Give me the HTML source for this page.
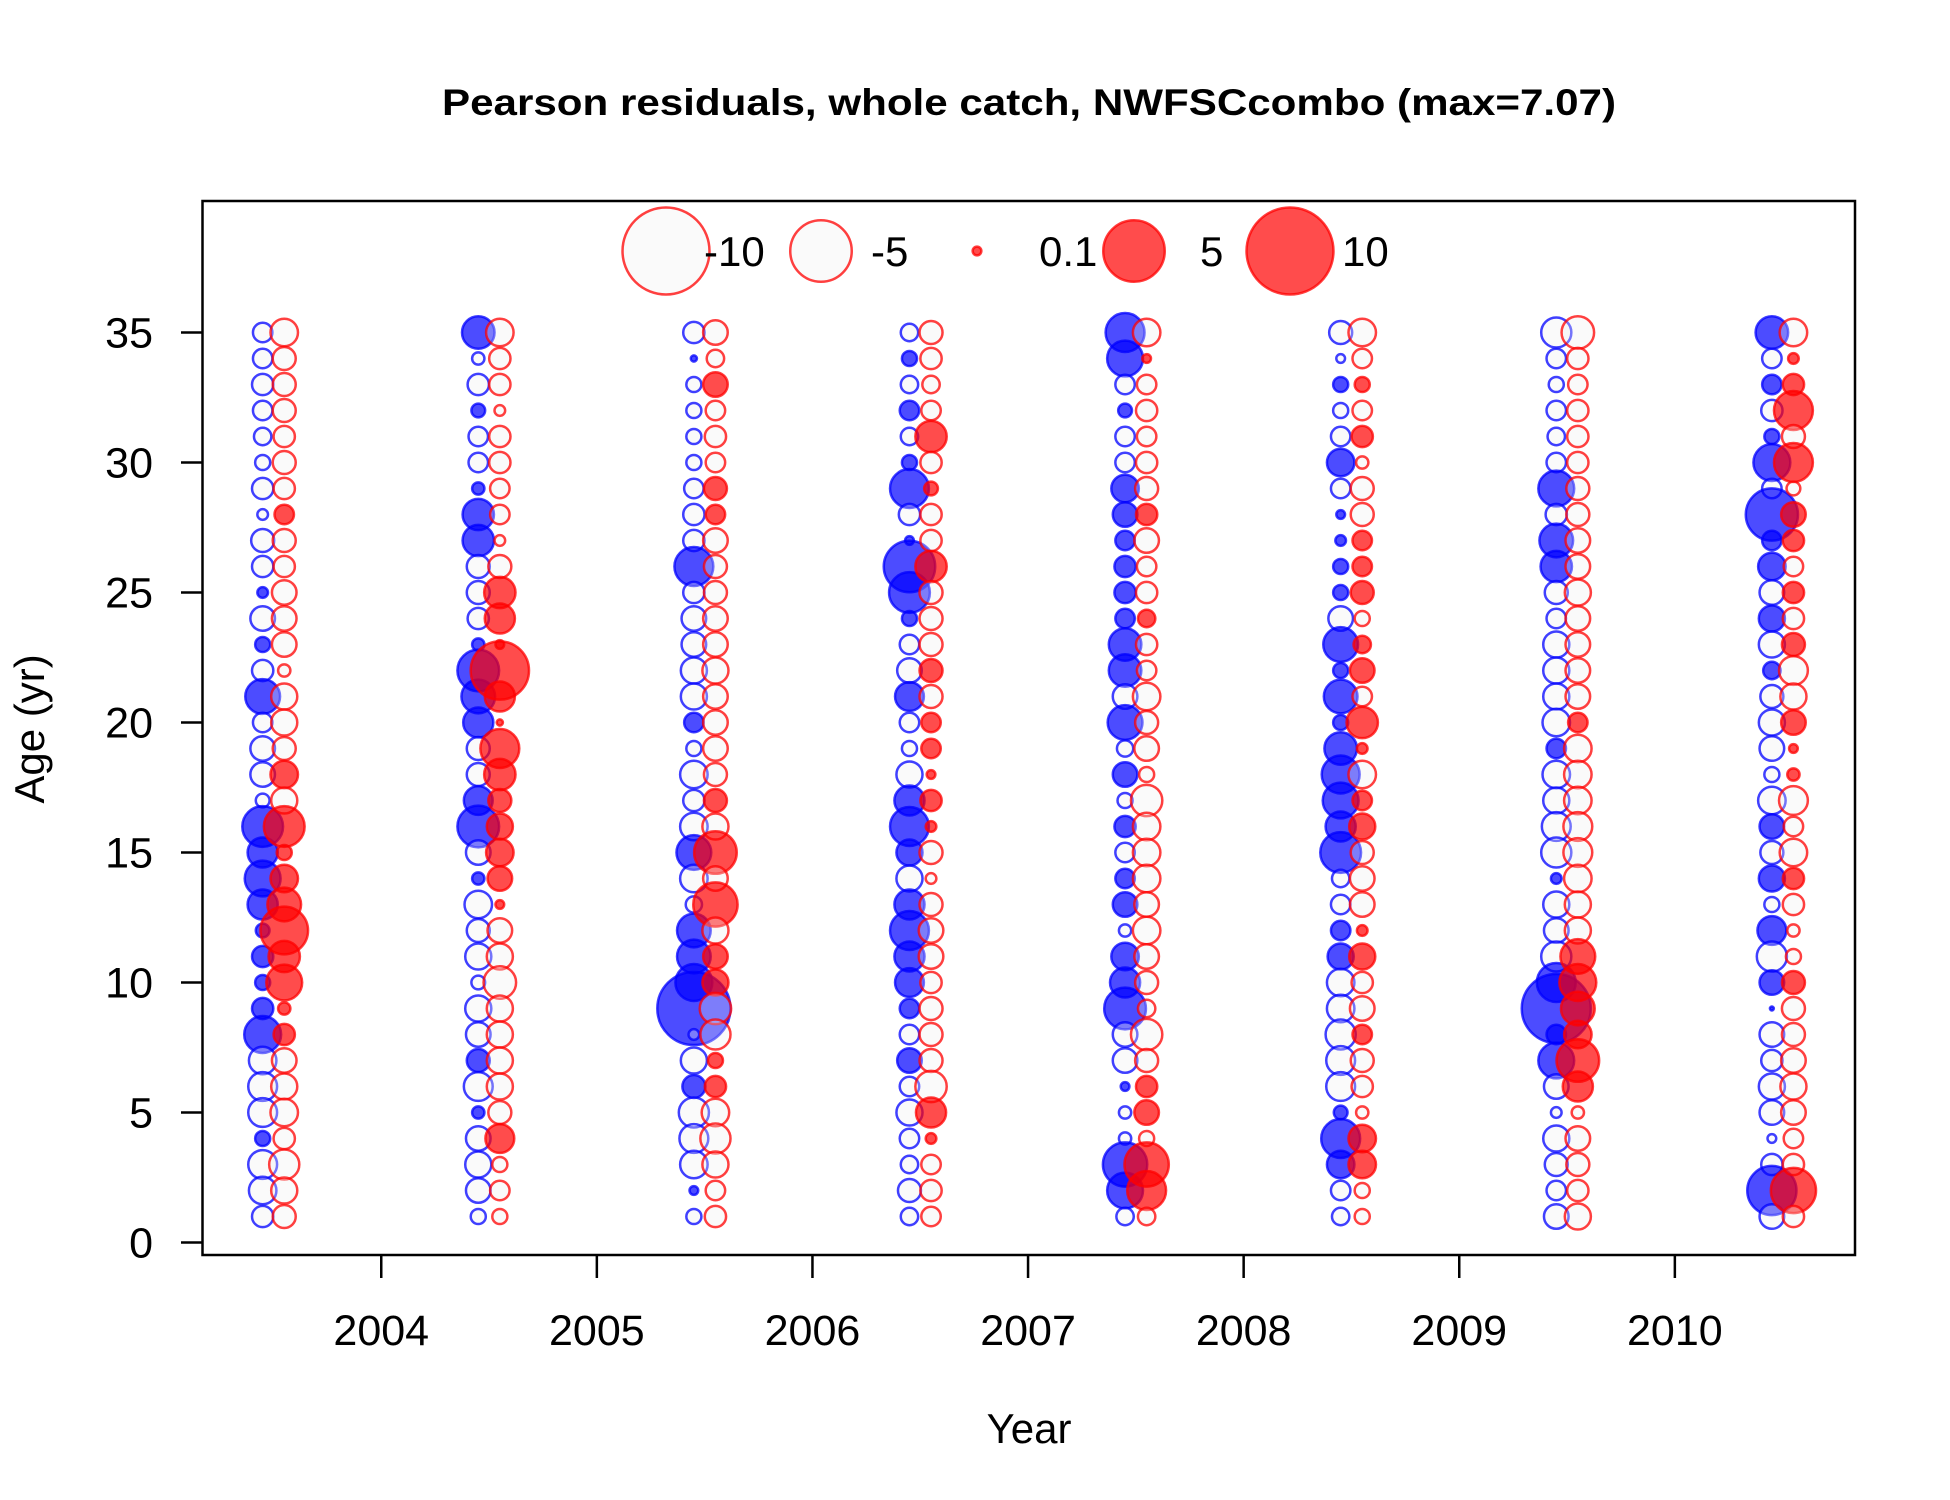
<!DOCTYPE html>
<html><head><meta charset="utf-8"><style>
html,body{margin:0;padding:0;background:#fff;}
svg{display:block;font-family:"Liberation Sans",Arial,sans-serif;}
</style></head><body>
<svg id="chart" width="1950" height="1500" viewBox="0 0 1950 1500">
<rect x="0" y="0" width="1950" height="1500" fill="#fff"/>
<text x="1029" y="115" text-anchor="middle" font-size="37" font-weight="bold" textLength="1174" lengthAdjust="spacingAndGlyphs">Pearson residuals, whole catch, NWFSCcombo (max=7.07)</text>
<g id="marks"></g>
<rect x="202.5" y="201" width="1652.5" height="1054" fill="none" stroke="#000" stroke-width="2.5"/>
<g id="xaxis"></g>
<g id="yaxis"></g>
<text x="1029" y="1443" text-anchor="middle" font-size="42">Year</text>
<text transform="translate(44,729) rotate(-90)" text-anchor="middle" font-size="42">Age (yr)</text>
<g id="legend"></g>
</svg>
<script>
const years = [2003,2004,2005,2006,2007,2008,2009,2010];
const ages = Array.from({length:35},(_,i)=>i+1);
const xTicks = [2004,2005,2006,2007,2008,2009,2010];
const yTicks = [0,5,10,15,20,25,30,35];
const legendValues = [-10,-5,0.1,5,10];
const legendLabels = ["-10","-5","0.1","5","10"];
// values listed age 35 down to age 1
const female = {
2003:[-0.5,-0.5,-0.6,-0.5,-0.4,-0.3,-0.6,-0.15,-0.7,-0.6,0.15,-0.8,0.3,-0.6,1.6,-0.5,-0.8,-0.8,-0.25,2.2,1.2,1.7,1.2,0.25,0.6,0.3,0.6,1.8,-1.0,-1.1,-1.1,0.3,-1.1,-1.0,-0.6],
2004:[1.4,-0.2,-0.6,0.25,-0.5,-0.5,0.2,1.3,1.3,-0.7,-0.7,-0.6,0.2,2.3,1.5,1.2,-0.7,-0.7,1.1,2.3,-0.8,0.2,-1.0,-0.7,-0.9,-0.25,-0.9,-0.8,0.7,-1.1,0.2,-0.8,-0.9,-0.8,-0.3],
2005:[-0.6,0.05,-0.3,-0.3,-0.3,-0.3,-0.5,-0.6,-0.6,2.0,-0.6,-0.8,-0.8,-0.9,-0.9,0.5,-0.3,-1.0,-0.6,-1.0,1.6,-1.0,-0.35,1.5,1.5,1.8,7.07,-0.15,-0.9,0.7,-1.2,-1.1,-1.0,0.1,-0.3],
2006:[-0.4,0.3,-0.4,0.5,-0.4,0.3,2.0,-0.6,0.1,3.5,2.2,0.3,-0.5,-0.8,1.1,-0.5,-0.3,-0.9,1.2,2.0,0.9,-0.9,1.2,2.0,1.2,1.1,0.5,-0.5,0.8,-0.5,-0.9,-0.5,-0.4,-0.7,-0.4],
2007:[2.0,1.7,-0.5,0.25,-0.5,-0.5,1.0,0.8,0.5,0.6,0.6,0.5,1.4,1.4,-0.8,1.6,-0.35,0.8,-0.3,0.6,-0.5,0.5,0.8,-0.2,1.0,1.2,2.3,-0.8,-0.8,0.1,-0.2,-0.2,2.6,1.7,-0.4],
2008:[-0.7,-0.1,0.3,-0.3,-0.5,1.0,-0.5,0.1,0.15,0.3,0.3,-0.8,1.6,0.3,1.5,0.3,1.4,1.9,1.7,1.2,2.2,-0.4,-0.5,0.5,0.9,-1.0,-1.0,-1.2,-1.1,-1.1,0.25,2.0,1.0,-0.5,-0.4],
2009:[-1.2,-0.5,-0.3,-0.5,-0.4,-0.5,1.7,-0.6,1.5,1.3,-0.7,-0.5,-0.9,-0.9,-0.9,-1.0,0.5,-1.0,-0.9,-1.1,-1.2,0.15,-0.9,-0.8,-1.2,2.0,6.3,0.5,1.7,-0.8,-0.15,-0.9,-0.7,-0.5,-0.8],
2010:[1.4,-0.5,0.5,-0.6,0.3,1.8,-0.5,3.6,0.5,1.0,-0.8,0.9,-0.9,0.4,-0.7,-0.9,-0.8,-0.3,-1.0,0.8,-0.7,0.9,-0.3,1.1,-1.2,0.8,0.02,-0.8,-0.6,-0.9,-0.8,-0.1,-0.6,3.2,-0.8]
};
const male = {
2003:[-1.0,-0.7,-0.7,-0.7,-0.6,-0.7,-0.6,0.5,-0.7,-0.6,-0.8,-0.8,-0.8,-0.2,-0.9,-0.9,-0.7,1.0,-0.9,2.2,0.3,1.0,1.5,3.0,1.3,1.7,0.2,0.6,-0.8,-0.9,-1.0,-0.6,-1.2,-0.9,-0.7],
2004:[-1.0,-0.6,-0.6,-0.15,-0.6,-0.6,-0.5,-0.5,-0.15,-0.7,1.3,1.2,0.1,4.5,1.2,0.05,2.0,1.3,0.7,0.9,1.0,0.8,0.1,-0.8,-0.9,-1.4,-0.9,-0.9,-0.9,-0.9,-0.7,1.1,-0.3,-0.5,-0.3],
2005:[-0.8,-0.4,0.8,-0.5,-0.6,-0.5,0.7,0.5,-0.8,-0.7,-0.7,-0.8,-0.8,-0.9,-0.8,-0.8,-0.8,-0.7,0.7,-0.9,2.4,-0.8,2.6,-0.9,0.8,0.9,-1.3,-1.2,0.3,0.6,-1.0,-1.2,-0.9,-0.5,-0.6],
2006:[-0.7,-0.6,-0.4,-0.5,1.3,-0.6,0.25,-0.6,-0.6,1.3,-0.7,-0.7,-0.7,0.7,-0.7,0.5,0.5,0.1,0.6,0.15,-0.7,-0.15,-0.7,-0.8,-0.8,-0.6,-0.7,-0.7,-0.7,-1.3,1.2,0.15,-0.5,-0.6,-0.5],
2007:[-1.0,0.1,-0.5,-0.6,-0.5,-0.6,-0.7,0.6,-0.8,-0.5,-0.6,0.4,-0.6,-0.5,-1.0,-0.7,-0.8,-0.3,-1.3,-1.0,-1.0,-1.0,-0.8,-1.0,-0.8,-0.7,-0.4,-1.3,-0.7,0.6,0.8,-0.3,2.6,2.0,-0.4],
2008:[-1.0,-0.5,0.3,-0.5,0.6,-0.2,-0.7,-0.7,0.5,0.5,0.7,-0.3,0.4,0.8,-0.5,1.3,0.15,-1.0,0.5,0.9,-0.7,-0.8,-0.8,0.15,0.9,-0.6,-0.8,0.5,-0.7,-0.6,-0.2,1.0,1.0,-0.3,-0.3],
2009:[-1.4,-0.6,-0.5,-0.6,-0.6,-0.6,-0.7,-0.7,-0.8,-0.8,-0.9,-0.8,-0.8,-0.8,-0.8,0.5,-1.0,-1.0,-1.0,-1.1,-1.1,-1.0,-0.9,-0.9,1.6,1.8,1.5,1.0,2.4,1.2,-0.2,-0.8,-0.7,-0.6,-0.9],
2010:[-1.0,0.15,0.6,2.0,-0.7,2.0,-0.25,0.8,0.6,-0.5,0.6,-0.6,0.7,-1.1,-0.9,0.8,0.1,0.2,-1.1,-0.5,-1.0,0.6,-0.6,-0.2,-0.3,0.7,-0.7,-0.7,-0.8,-0.9,-0.8,-0.5,-0.6,2.7,-0.6]
};
const NS='http://www.w3.org/2000/svg';
const xScale = v => 381.25 + (v-2004)*215.6;
const yScale = v => 1242.5 - v*26;
const rScale = v => 13.75*Math.sqrt(Math.abs(v));
function mk(tag, attrs){const e=document.createElementNS(NS,tag);for(const k in attrs)e.setAttribute(k,attrs[k]);return e;}
function bubble(parent,cx,cy,v,col){
  const filled = v>0;
  const c = mk('circle',{cx:cx,cy:cy,r:rScale(v),
    fill: filled ? (col==='b'?'rgba(0,0,255,0.7)':'rgba(255,0,0,0.7)') : 'rgba(240,240,240,0.3)',
    stroke: col==='b'?'rgba(0,0,255,0.75)':'rgba(255,0,0,0.75)','stroke-width':2.5});
  parent.appendChild(c);
  return c;
}
const marks=document.getElementById('marks');
years.forEach(y=>{
  const f=female[y], m=male[y];
  for(let i=0;i<35;i++){
    const age=35-i;
    const c1=bubble(marks,xScale(y+0.45),yScale(age),f[i],'b');
    
    
  }
  for(let i=0;i<35;i++){
    const age=35-i;
    const c2=bubble(marks,xScale(y+0.55),yScale(age),m[i],'r');
    
    
  }
});
const xa=document.getElementById('xaxis');
xTicks.forEach(t=>{
  const x=xScale(t);
  const l=mk('line',{x1:x,x2:x,y1:1255,y2:1278,stroke:'#000','stroke-width':2.5});
  
  
  xa.appendChild(l);
  const tx=mk('text',{x:x,y:1345,'text-anchor':'middle','font-size':43});
  tx.textContent=t;
  
  
  xa.appendChild(tx);
});
const ya=document.getElementById('yaxis');
yTicks.forEach(t=>{
  const y=yScale(t);
  const l=mk('line',{x1:181,x2:202.5,y1:y,y2:y,stroke:'#000','stroke-width':2.5});
  
  
  ya.appendChild(l);
  const tx=mk('text',{x:153,y:y+15,'text-anchor':'end','font-size':43});
  tx.textContent=t;
  
  
  ya.appendChild(tx);
});
const lg=document.getElementById('legend');
const lgCx=[666,821,977,1134,1290];
const lgTx=[704,871,1039,1200,1342];
legendValues.forEach((v,i)=>{
  const c=bubble(lg,lgCx[i],251,v,'r');
  
  
  const tx=mk('text',{x:lgTx[i],y:266,'font-size':42});
  tx.textContent=legendLabels[i];
  
  
  lg.appendChild(tx);
});
</script>
</body></html>
